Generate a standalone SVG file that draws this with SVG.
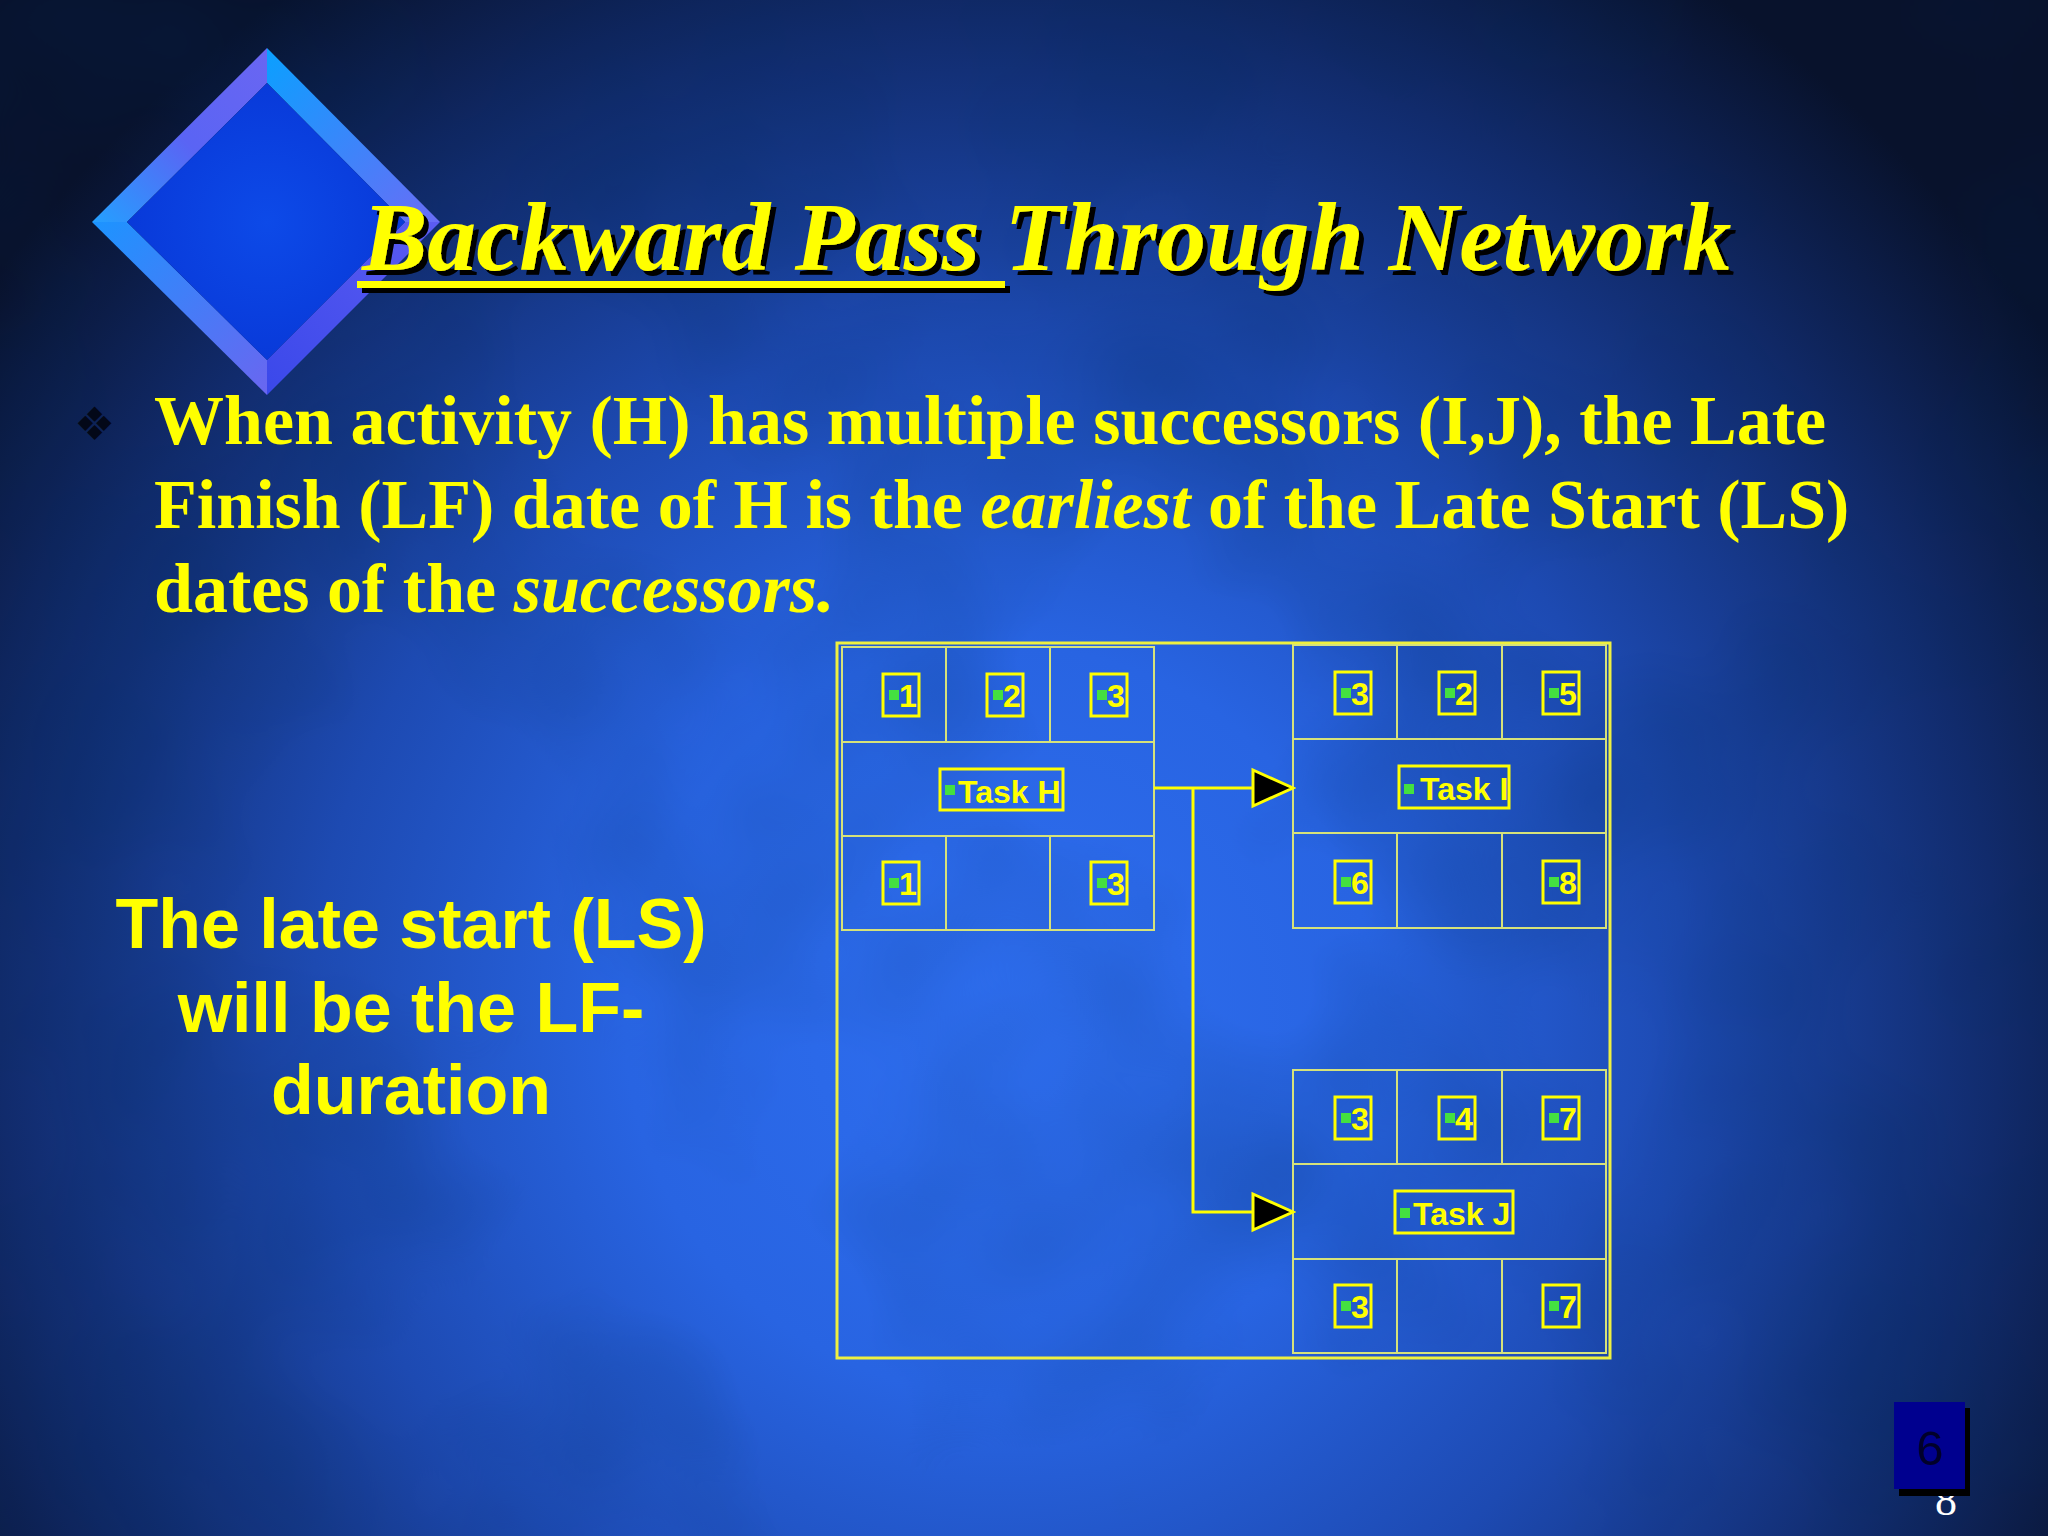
<svg xmlns="http://www.w3.org/2000/svg" width="2048" height="1536" viewBox="0 0 2048 1536">
<defs>
<radialGradient id="bg" gradientUnits="userSpaceOnUse" cx="1000" cy="1020" r="1250">
<stop offset="0" stop-color="#2e6ef0"/>
<stop offset="0.3" stop-color="#2864e2"/>
<stop offset="0.55" stop-color="#1d4ab2"/>
<stop offset="0.8" stop-color="#112b6c"/>
<stop offset="1" stop-color="#08122c"/>
</radialGradient>
<filter id="clouds" x="0" y="0" width="100%" height="100%">
<feTurbulence type="fractalNoise" baseFrequency="0.003" numOctaves="3" seed="7"/>
<feColorMatrix type="matrix" values="0 0 0 0 0  0 0 0 0 0.02  0 0 0 0 0.1  0.6 0 0 0 -0.25"/>
</filter>
<filter id="shadow" x="-5%" y="-20%" width="110%" height="140%">
<feDropShadow dx="5" dy="5" stdDeviation="0.6" flood-color="#000" flood-opacity="1"/>
</filter>
<linearGradient id="fTL" x1="92" y1="222" x2="267" y2="48" gradientUnits="userSpaceOnUse">
<stop offset="0" stop-color="#24a0ff"/><stop offset="0.5" stop-color="#5a64f4"/><stop offset="1" stop-color="#6a66f2"/>
</linearGradient>
<linearGradient id="fTR" x1="267" y1="48" x2="440" y2="222" gradientUnits="userSpaceOnUse">
<stop offset="0" stop-color="#0aa0ff"/><stop offset="1" stop-color="#6a6cf6"/>
</linearGradient>
<linearGradient id="fBL" x1="92" y1="222" x2="267" y2="395" gradientUnits="userSpaceOnUse">
<stop offset="0" stop-color="#1c94ff"/><stop offset="1" stop-color="#6a66f0"/>
</linearGradient>
<linearGradient id="fBR" x1="440" y1="222" x2="267" y2="395" gradientUnits="userSpaceOnUse">
<stop offset="0" stop-color="#5c5cf2"/><stop offset="1" stop-color="#3a48ea"/>
</linearGradient>
<radialGradient id="fIn" gradientUnits="userSpaceOnUse" cx="267" cy="222" r="150">
<stop offset="0" stop-color="#0d4ae8"/><stop offset="1" stop-color="#0838d8"/>
</radialGradient>
<marker id="arrow" markerUnits="userSpaceOnUse" viewBox="-3 -3 46 42" refX="40" refY="18" markerWidth="46" markerHeight="42" orient="auto">
<path d="M0,0 L40,18 L0,36 Z" fill="#000" stroke="#ffff00" stroke-width="3" stroke-linejoin="miter"/>
</marker>
<clipPath id="clipI"><rect x="1399" y="766" width="110" height="42"/></clipPath>
<clipPath id="clipH"><rect x="940" y="769" width="123" height="41"/></clipPath>
<clipPath id="clipJ"><rect x="1395" y="1191" width="118" height="42"/></clipPath>
<style>
.cell{fill:none;stroke:#d6e27a;stroke-width:2}
.frame{fill:none;stroke:#eef040;stroke-width:3}
.vbox{fill:none;stroke:#ffff00;stroke-width:3}
.dot{fill:#44e040}
.num{font-family:"Liberation Sans",Arial,sans-serif;font-weight:bold;font-size:32px;fill:#ffff00}
.conn{fill:none;stroke:#ffff00;stroke-width:3}
.title{font-family:"Liberation Serif","Times New Roman",serif;font-weight:bold;font-style:italic;font-size:98px}
.body{font-family:"Liberation Serif","Times New Roman",serif;font-weight:bold;font-size:70px;fill:#ffff00}
.side{font-family:"Liberation Sans",Arial,sans-serif;font-weight:bold;font-size:70px;fill:#ffff00}
</style>
</defs>

<rect width="2048" height="1536" fill="url(#bg)"/>
<rect width="2048" height="1536" filter="url(#clouds)"/>

<g id="logo-diamond">
<polygon points="92,222 267,48 267,83 127,222" fill="url(#fTL)"/>
<polygon points="267,48 440,222 405,222 267,83" fill="url(#fTR)"/>
<polygon points="92,222 267,395 267,360 127,222" fill="url(#fBL)"/>
<polygon points="440,222 267,395 267,360 405,222" fill="url(#fBR)"/>
<polygon points="267,83 405,222 267,360 127,222" fill="url(#fIn)"/>
</g>

<g id="title" filter="url(#shadow)">
<text class="title" x="362" y="270" fill="#ffff00">Backward Pass Through Network</text>
<rect x="357" y="281" width="648" height="7" fill="#ffff00"/>
</g>

<g id="bullet">
<text x="74" y="440" font-family="DejaVu Sans, sans-serif" font-size="46" fill="#030818">❖</text>
<text class="body" x="154" y="444">When activity (H) has multiple successors (I,J), the Late</text>
<text class="body" x="154" y="528">Finish (LF) date of H is the <tspan font-style="italic">earliest</tspan> of the Late Start (LS)</text>
<text class="body" x="154" y="612">dates of the <tspan font-style="italic">successors.</tspan></text>
</g>

<g id="side-note">
<text class="side" x="411" y="948" text-anchor="middle">The late start (LS)</text>
<text class="side" x="411" y="1032" text-anchor="middle">will be the LF-</text>
<text class="side" x="411" y="1114" text-anchor="middle">duration</text>
</g>

<rect id="network-frame" class="frame" x="837" y="643" width="773" height="715"/>

<g id="task-h">
<rect class="cell" x="842" y="647" width="312" height="283"/>
<line class="cell" x1="842" y1="742" x2="1154" y2="742"/>
<line class="cell" x1="842" y1="836" x2="1154" y2="836"/>
<line class="cell" x1="946" y1="647" x2="946" y2="742"/>
<line class="cell" x1="1050" y1="647" x2="1050" y2="742"/>
<line class="cell" x1="946" y1="836" x2="946" y2="930"/>
<line class="cell" x1="1050" y1="836" x2="1050" y2="930"/>
<rect class="vbox" x="883" y="674" width="36" height="42"/><rect class="dot" x="889" y="690" width="10" height="10"/><text class="num" x="899" y="707">1</text>
<rect class="vbox" x="987" y="674" width="36" height="42"/><rect class="dot" x="993" y="690" width="10" height="10"/><text class="num" x="1003" y="707">2</text>
<rect class="vbox" x="1091" y="674" width="36" height="42"/><rect class="dot" x="1097" y="690" width="10" height="10"/><text class="num" x="1107" y="707">3</text>
<g clip-path="url(#clipH)"><text class="num" x="958" y="803">Task H</text></g>
<rect class="dot" x="945" y="785" width="10" height="10"/>
<rect class="vbox" x="940" y="769" width="123" height="41"/>
<rect class="vbox" x="883" y="862" width="36" height="42"/><rect class="dot" x="889" y="878" width="10" height="10"/><text class="num" x="899" y="895">1</text>
<rect class="vbox" x="1091" y="862" width="36" height="42"/><rect class="dot" x="1097" y="878" width="10" height="10"/><text class="num" x="1107" y="895">3</text>
</g>

<g id="task-i">
<rect class="cell" x="1293" y="645" width="313" height="283"/>
<line class="cell" x1="1293" y1="739" x2="1606" y2="739"/>
<line class="cell" x1="1293" y1="833" x2="1606" y2="833"/>
<line class="cell" x1="1397" y1="645" x2="1397" y2="739"/>
<line class="cell" x1="1502" y1="645" x2="1502" y2="739"/>
<line class="cell" x1="1397" y1="833" x2="1397" y2="928"/>
<line class="cell" x1="1502" y1="833" x2="1502" y2="928"/>
<rect class="vbox" x="1335" y="672" width="36" height="42"/><rect class="dot" x="1341" y="688" width="10" height="10"/><text class="num" x="1351" y="705">3</text>
<rect class="vbox" x="1439" y="672" width="36" height="42"/><rect class="dot" x="1445" y="688" width="10" height="10"/><text class="num" x="1455" y="705">2</text>
<rect class="vbox" x="1543" y="672" width="36" height="42"/><rect class="dot" x="1549" y="688" width="10" height="10"/><text class="num" x="1559" y="705">5</text>
<g clip-path="url(#clipI)"><text class="num" x="1420" y="800">Task I</text></g>
<rect class="dot" x="1404" y="784" width="10" height="10"/>
<rect class="vbox" x="1399" y="766" width="110" height="42"/>
<rect class="vbox" x="1335" y="861" width="36" height="42"/><rect class="dot" x="1341" y="877" width="10" height="10"/><text class="num" x="1351" y="894">6</text>
<rect class="vbox" x="1543" y="861" width="36" height="42"/><rect class="dot" x="1549" y="877" width="10" height="10"/><text class="num" x="1559" y="894">8</text>
</g>

<g id="task-j">
<rect class="cell" x="1293" y="1070" width="313" height="283"/>
<line class="cell" x1="1293" y1="1164" x2="1606" y2="1164"/>
<line class="cell" x1="1293" y1="1259" x2="1606" y2="1259"/>
<line class="cell" x1="1397" y1="1070" x2="1397" y2="1164"/>
<line class="cell" x1="1502" y1="1070" x2="1502" y2="1164"/>
<line class="cell" x1="1397" y1="1259" x2="1397" y2="1353"/>
<line class="cell" x1="1502" y1="1259" x2="1502" y2="1353"/>
<rect class="vbox" x="1335" y="1097" width="36" height="42"/><rect class="dot" x="1341" y="1113" width="10" height="10"/><text class="num" x="1351" y="1130">3</text>
<rect class="vbox" x="1439" y="1097" width="36" height="42"/><rect class="dot" x="1445" y="1113" width="10" height="10"/><text class="num" x="1455" y="1130">4</text>
<rect class="vbox" x="1543" y="1097" width="36" height="42"/><rect class="dot" x="1549" y="1113" width="10" height="10"/><text class="num" x="1559" y="1130">7</text>
<g clip-path="url(#clipJ)"><text class="num" x="1413" y="1225">Task J</text></g>
<rect class="dot" x="1400" y="1208" width="10" height="10"/>
<rect class="vbox" x="1395" y="1191" width="118" height="42"/>
<rect class="vbox" x="1335" y="1285" width="36" height="42"/><rect class="dot" x="1341" y="1301" width="10" height="10"/><text class="num" x="1351" y="1318">3</text>
<rect class="vbox" x="1543" y="1285" width="36" height="42"/><rect class="dot" x="1549" y="1301" width="10" height="10"/><text class="num" x="1559" y="1318">7</text>
</g>

<g id="connectors">
<path class="conn" d="M1154,788 H1293" marker-end="url(#arrow)"/>
<path class="conn" d="M1193,788 V1212 H1293" marker-end="url(#arrow)"/>
</g>

<g id="page-number">
<text x="1946" y="1515" text-anchor="middle" font-family="Liberation Serif, serif" font-size="44" fill="#ffffff">8</text>
<rect x="1899" y="1408" width="71" height="88" fill="#000"/>
<rect x="1894" y="1402" width="71" height="87" fill="#00008f"/>
<text x="1930" y="1465" text-anchor="middle" font-family="Liberation Sans, Arial, sans-serif" font-size="49" fill="#00002a">6</text>
</g>
</svg>
